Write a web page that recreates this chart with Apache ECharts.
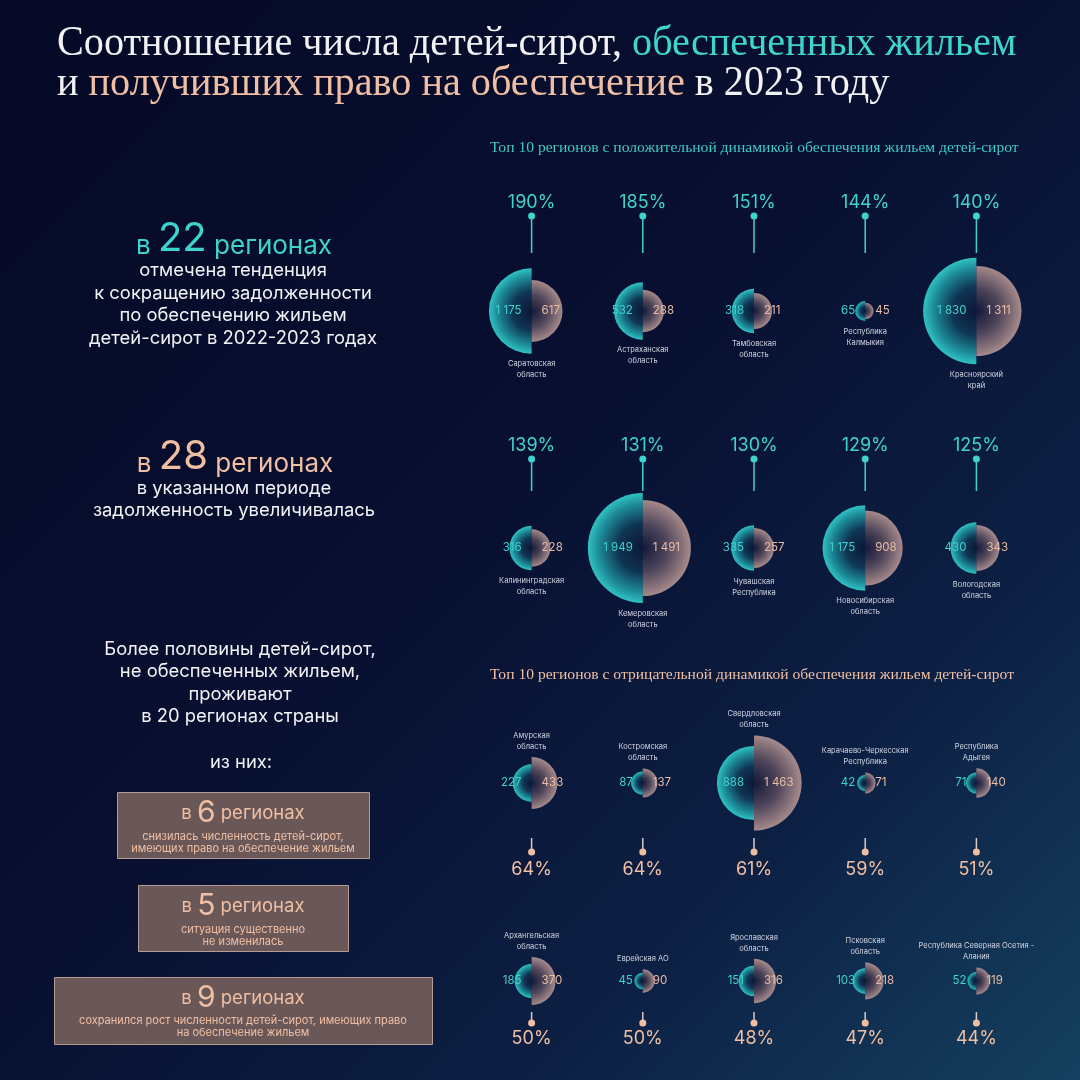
<!DOCTYPE html>
<html><head><meta charset="utf-8">
<script src="https://cdn.jsdelivr.net/npm/echarts@6/dist/echarts.min.js"></script>
<style>html,body{margin:0;padding:0;background:#060a28}#c{width:1080px;height:1080px}</style>
</head><body><div id="c"></div>
<script>
// ---- DATA ----
const posNames1 = ['Саратовская\nобласть','Астраханская\nобласть','Тамбовская\nобласть','Республика\nКалмыкия','Красноярский\nкрай'];
const posProvided1 = [1175, 532, 318, 65, 1830];
const posEntitled1 = [617, 288, 211, 45, 1311];
const posPct1 = [190, 185, 151, 144, 140];

const posNames2 = ['Калининградская\nобласть','Кемеровская\nобласть','Чувашская\nРеспублика','Новосибирская\nобласть','Вологодская\nобласть'];
const posProvided2 = [316, 1949, 335, 1175, 430];
const posEntitled2 = [228, 1491, 257, 908, 343];
const posPct2 = [139, 131, 130, 129, 125];

const negNames1 = ['Амурская\nобласть','Костромская\nобласть','Свердловская\nобласть','Карачаево-Черкесская\nРеспублика','Республика\nАдыгея'];
const negProvided1 = [227, 87, 888, 42, 71];
const negEntitled1 = [433, 137, 1463, 71, 140];
const negPct1 = [64, 64, 61, 59, 51];

const negNames2 = ['Архангельская\nобласть','Еврейская АО','Ярославская\nобласть','Псковская\nобласть','Республика Северная Осетия -\nАлания'];
const negProvided2 = [185, 45, 151, 103, 52];
const negEntitled2 = [370, 90, 316, 218, 119];
const negPct2 = [50, 50, 48, 47, 44];

// ---- STYLE / LAYOUT ----
const TEAL = '#3fd3cd', PEACH = '#f0bfa3', WHITE = '#f2f2f4';
const SANS = 'Inter, "Noto Sans", sans-serif';
const SERIF = '"Liberation Serif", "DejaVu Serif", serif';
const K = 1.245; // radius per sqrt(value)

function fmt(v){ return String(v).replace(/\B(?=(\d{3})+(?!\d))/g, ' '); }

const rows = [
  {y:311, names:posNames1, a:posProvided1, b:posEntitled1, pct:posPct1, pin:'top', lineEnd:-58, dot:-95, text:-108},
  {y:548, names:posNames2, a:posProvided2, b:posEntitled2, pct:posPct2, pin:'top', lineEnd:-57, dot:-89, text:-102},
  {y:783, names:negNames1, a:negProvided1, b:negEntitled1, pct:negPct1, pin:'bottom', lineEnd:55, dot:69, text:87},
  {y:982, names:negNames2, a:negProvided2, b:negEntitled2, pct:negPct2, pin:'bottom', lineEnd:31, dot:42, text:58}
];

function tealFill(cx, cy, r){
  return {type:'radial', x:cx, y:cy, r:r, global:true, colorStops:[
    {offset:0, color:'#0b1636'},{offset:0.45, color:'#0f3553'},{offset:0.8, color:'#1d8a98'},{offset:1, color:'#2fc2c2'}]};
}
function pinkFill(cx, cy, r){
  return {type:'radial', x:cx, y:cy, r:r, global:true, colorStops:[
    {offset:0, color:'#121939'},{offset:0.5, color:'#4d4459'},{offset:1, color:'#a68a8b'}]};
}

function makeRender(cfg){
  return function(params, api){
    const i = api.value(0);
    const p = api.coord([i, 0]);
    const cx = p[0], cy = p[1];
    const a = api.value(1), b = api.value(2), pct = api.value(3);
    const ra = K * Math.sqrt(a), rb = K * Math.sqrt(b);
    const rmax = Math.max(ra, rb);
    const top = cfg.pin === 'top';
    const pinColor = top ? TEAL : '#d9c9c6';
    const dotColor = top ? TEAL : PEACH;
    const children = [
      {type:'sector', shape:{cx:cx, cy:cy, r0:0, r:ra, startAngle:Math.PI/2, endAngle:Math.PI*1.5, clockwise:true},
        style:{fill:tealFill(cx, cy, ra)}},
      {type:'sector', shape:{cx:cx, cy:cy, r0:0, r:rb, startAngle:-Math.PI/2, endAngle:Math.PI/2, clockwise:true},
        style:{fill:pinkFill(cx, cy, rb)}},
      {type:'text', style:{text:fmt(a), x:cx-10, y:cy, align:'right', verticalAlign:'middle', fill:TEAL, fontSize:11.5, fontFamily:SANS}},
      {type:'text', style:{text:fmt(b), x:cx+10, y:cy, align:'left', verticalAlign:'middle', fill:'#e9bba4', fontSize:11.5, fontFamily:SANS}},
      {type:'text', style:{text:cfg.names[i], x:cx, y: top ? cy + rmax + 5 : cy - rmax - 5, align:'center',
        verticalAlign: top ? 'top' : 'bottom', fill:'#d3d6e2', fontSize:7.5, lineHeight:11, fontFamily:SANS}},
      {type:'line', shape:{x1:cx, y1:cy+cfg.lineEnd, x2:cx, y2:cy+cfg.dot}, style:{stroke:pinColor, lineWidth:1.5}},
      {type:'circle', shape:{cx:cx, cy:cy+cfg.dot, r:3.5}, style:{fill:dotColor}},
      {type:'text', style:{text:pct + '%', x:cx, y:cy+cfg.text, align:'center', verticalAlign:'middle',
        fill: top ? TEAL : PEACH, fontSize:18, fontFamily:SANS}}
    ];
    return {type:'group', children:children};
  };
}

const grids = [], xAxes = [], yAxes = [], series = [];
rows.forEach(function(r, k){
  grids.push({left:476, right:48, top:r.y - 100, height:200});
  xAxes.push({type:'category', gridIndex:k, data:r.names, show:false, boundaryGap:true});
  yAxes.push({type:'value', gridIndex:k, min:-1, max:1, show:false});
  series.push({type:'custom', xAxisIndex:k, yAxisIndex:k, clip:false, silent:true,
    renderItem:makeRender(r),
    data:r.names.map(function(n, i){ return [i, r.a[i], r.b[i], r.pct[i]]; })});
});

function txt(x, y, text, size, color, extra){
  return {type:'text', x:x, y:y, style:Object.assign({text:text, fontSize:size, fill:color, fontFamily:SANS,
    align:'center', verticalAlign:'middle'}, extra||{})};
}
function headline(x, y, num, color){
  return {type:'text', x:x, y:y, style:{text:'{s|в }{b|' + num + '}{s| регионах}', align:'center', verticalAlign:'middle', fill:color,
    fontFamily:SANS, rich:{s:{fontSize:26, fill:color, fontFamily:SANS, verticalAlign:'bottom'}, b:{fontSize:40, fill:color, fontFamily:SANS, verticalAlign:'bottom'}}}};
}
function boxHead(x, y, num){
  return {type:'text', x:x, y:y, style:{text:'{s|в }{b|' + num + '}{s| регионах}', align:'center', verticalAlign:'middle', fill:PEACH,
    fontFamily:SANS, rich:{s:{fontSize:18.5, fill:PEACH, fontFamily:SANS}, b:{fontSize:30, fill:PEACH, fontFamily:SANS}}}};
}

const graphic = [
  {type:'rect', z:-10, shape:{x:0, y:0, width:1080, height:1080}, style:{fill:{type:'linear', x:0, y:0, x2:1, y2:1, colorStops:[
    {offset:0, color:'#050926'},{offset:0.45, color:'#080f30'},{offset:0.75, color:'#0c2044'},{offset:1, color:'#15405f'}]}}},
  {type:'text', x:57, y:24, scaleX:0.957, style:{text:'{w|Соотношение числа детей-сирот, }{t|обеспеченных жильем}\n{w|и }{p|получивших право на обеспечение}{w| в 2023 году}',
    fontFamily:SERIF, fontSize:42, lineHeight:40, fill:WHITE,
    rich:{w:{fill:WHITE, fontFamily:SERIF, fontSize:42, lineHeight:40}, t:{fill:'#3ed6cc', fontFamily:SERIF, fontSize:42, lineHeight:40}, p:{fill:PEACH, fontFamily:SERIF, fontSize:42, lineHeight:40}}}},
  {type:'text', x:490, y:148, style:{text:'Топ 10 регионов с положительной динамикой обеспечения жильем детей-сирот', fontFamily:SERIF, fontSize:15.6, fill:'#3fc9c7', verticalAlign:'middle'}},
  {type:'text', x:490, y:675, style:{text:'Топ 10 регионов с отрицательной динамикой обеспечения жильем детей-сирот', fontFamily:SERIF, fontSize:15.6, fill:PEACH, verticalAlign:'middle'}},
  headline(234, 239, '22', TEAL),
  txt(233, 259, 'отмечена тенденция\nк сокращению задолженности\nпо обеспечению жильем\nдетей-сирот в 2022-2023 годах', 18.4, WHITE, {verticalAlign:'top', lineHeight:22.7}),
  headline(235, 457, '28', PEACH),
  txt(234, 477, 'в указанном периоде\nзадолженность увеличивалась', 18.4, WHITE, {verticalAlign:'top', lineHeight:22.5}),
  txt(240, 638, 'Более половины детей-сирот,\nне обеспеченных жильем,\nпроживают\nв 20 регионах страны', 18.4, WHITE, {verticalAlign:'top', lineHeight:22.5}),
  txt(241, 762, 'из них:', 18.4, WHITE),
  {type:'rect', shape:{x:117.5, y:792.5, width:252, height:66}, style:{fill:'#6a5859', stroke:'#b59b94', lineWidth:1}},
  {type:'rect', shape:{x:138.5, y:885.5, width:210, height:66}, style:{fill:'#6a5859', stroke:'#b59b94', lineWidth:1}},
  {type:'rect', shape:{x:54.5, y:977.5, width:378, height:67}, style:{fill:'#6a5859', stroke:'#b59b94', lineWidth:1}},
  boxHead(243, 813, '6'),
  txt(243, 831, 'снизилась численность детей-сирот,\nимеющих право на обеспечение жильем', 11, PEACH, {verticalAlign:'top', lineHeight:11.5}),
  boxHead(243, 906, '5'),
  txt(243, 924, 'ситуация существенно\nне изменилась', 11, PEACH, {verticalAlign:'top', lineHeight:11.5}),
  boxHead(243, 998, '9'),
  txt(243, 1015, 'сохранился рост численности детей-сирот, имеющих право\nна обеспечение жильем', 11, PEACH, {verticalAlign:'top', lineHeight:12})
];

const chart = echarts.init(document.getElementById('c'), null, {renderer:'canvas', width:1080, height:1080});
chart.setOption({
  animation:false,
  backgroundColor:'#060a28',
  grid:grids, xAxis:xAxes, yAxis:yAxes, series:series,
  graphic:graphic
});
</script></body></html>
